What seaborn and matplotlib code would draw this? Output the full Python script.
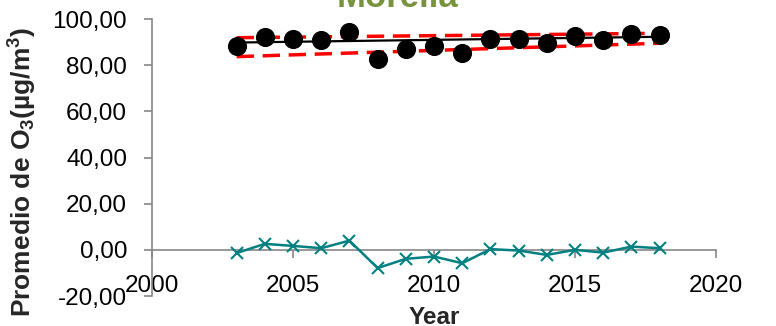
import matplotlib
matplotlib.use("Agg")
import matplotlib.pyplot as plt
from matplotlib.ticker import FuncFormatter, MultipleLocator
import seaborn as sns
import pandas as pd

# Annual mean ozone, Morelia
years = [2003, 2004, 2005, 2006, 2007, 2008, 2009, 2010,
         2011, 2012, 2013, 2014, 2015, 2016, 2017, 2018]
ozone = [88.4, 92.2, 91.5, 90.9, 94.2, 82.8, 87.1, 88.2,
         85.1, 91.5, 91.2, 89.5, 92.5, 90.8, 93.6, 93.2]
residual = [-1.4, 2.6, 1.7, 0.7, 4.0, -7.9, -3.9, -2.9,
            -5.8, 0.3, -0.3, -2.2, 0.0, -1.2, 1.4, 0.7]

# Sen's slope trend and its 99 % confidence bounds (start / end of period)
trend_years = [2003, 2018]
sen_estimate = [89.8, 92.3]
conf_min = [83.7, 89.5]
conf_max = [91.9, 93.8]

df = pd.DataFrame({"Year": years, "O3": ozone, "Residual": residual})
trend = pd.DataFrame({"Year": trend_years, "Sen": sen_estimate,
                      "Min": conf_min, "Max": conf_max})

sns.set_theme(style="white")
plt.rcParams["font.family"] = ["Liberation Sans", "DejaVu Sans"]
plt.rcParams["mathtext.fontset"] = "custom"
plt.rcParams["mathtext.rm"] = "Liberation Sans"
plt.rcParams["mathtext.bf"] = "Liberation Sans:bold"
plt.rcParams["mathtext.default"] = "bf"

fig = plt.figure(figsize=(7.76, 3.26), dpi=100)
ax = fig.add_axes([0.1959, 0.092, 0.7268, 0.8497])

sns.lineplot(data=trend, x="Year", y="Min", ax=ax, color="#FF0000",
             linewidth=2.5, linestyle=(0, (5, 2.5)), zorder=2)
sns.lineplot(data=trend, x="Year", y="Max", ax=ax, color="#FF0000",
             linewidth=2.5, linestyle=(0, (5, 2.5)), zorder=2)
sns.lineplot(data=trend, x="Year", y="Sen", ax=ax, color="black",
             linewidth=1.6, zorder=3)
sns.lineplot(data=df, x="Year", y="Residual", ax=ax, color="#008080",
             linewidth=1.8, marker="x", markersize=9, markeredgewidth=1.5,
             markeredgecolor="#008080", zorder=3)
sns.scatterplot(data=df, x="Year", y="O3", ax=ax, color="black", s=190,
                edgecolor="black", linewidth=0, zorder=4)

ax.set_xlim(2000, 2020)
ax.set_ylim(-20, 100)
ax.xaxis.set_major_locator(MultipleLocator(5))
ax.yaxis.set_major_locator(MultipleLocator(20))
ax.yaxis.set_major_formatter(
    FuncFormatter(lambda v, _: f"{v:.2f}".replace(".", ",")))

for side in ("top", "right"):
    ax.spines[side].set_visible(False)
ax.spines["bottom"].set_position(("data", 0))
for side in ("left", "bottom"):
    ax.spines[side].set_color("#868686")
    ax.spines[side].set_linewidth(1.2)

ax.tick_params(axis="both", which="major", direction="out", length=6,
               width=1.2, color="#868686", labelsize=17.5, labelcolor="black")
ax.tick_params(axis="x", bottom=True, pad=12)
ax.tick_params(axis="y", left=True, pad=12)

ax.set_xlabel("Year", fontsize=17.5, fontweight="bold")
ax.xaxis.set_label_coords(0.5, -0.035)
ax.set_ylabel("Promedio de O$_3$(µg/m$^3$)", fontsize=19, fontweight="bold")
ax.yaxis.set_label_coords(-0.2, 0.447)
ax.grid(False)

fig.text(397 / 776, 1 - 7 / 326, "Morelia", color="#77933C",
         fontsize=25, fontweight="bold", ha="center", va="baseline")

fig.savefig("out.png", dpi=100)
